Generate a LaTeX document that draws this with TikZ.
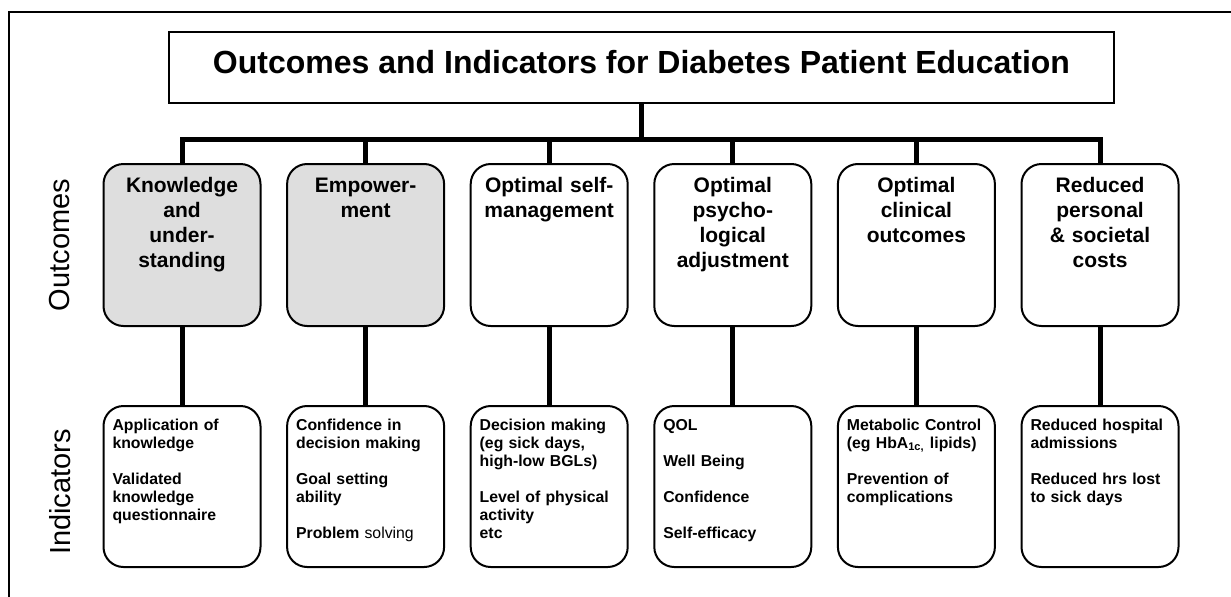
\documentclass[tikz,border=0pt]{standalone}
\usepackage{fontspec}
\setmainfont{Liberation Sans}
\definecolor{shade}{RGB}{222,222,222}

\begin{document}
\begin{tikzpicture}[x=0.5pt, y=-0.5pt,
    link/.style = {line width=2.5pt},
    outcome/.style = {draw, line width=1pt, rounded corners=10pt, anchor=north,
        minimum width=78.5pt, inner xsep=2.25pt, inner ysep=0pt, text width=74pt,
        align=center, text height=14.35pt, text depth=66.65pt,
        font=\fontsize{10.5}{12.5}\selectfont\bfseries},
    indicator/.style = {draw, line width=1pt, rounded corners=10pt, anchor=north,
        minimum width=78.5pt, inner xsep=4.5pt, inner ysep=0pt, text width=69.5pt,
        align=left, text height=12.2pt, text depth=68.3pt,
        font=\fontsize{7.9}{9}\selectfont\bfseries},
    side/.style = {rotate=90, font=\fontsize{14.5}{17}\selectfont}]
    \useasboundingbox (0,0) rectangle (1231,596);

    % frame
    \draw[line width=1pt] (9,600) -- (9,12) -- (1235,12);

    \node[draw, line width=1pt, anchor=north, minimum width=472.5pt, inner sep=0pt,
        text height=20.5pt, text depth=15pt, font=\fontsize{16}{18}\selectfont\bfseries]
        (title) at (641.5,31) {Outcomes and Indicators for Diabetes Patient Education};

    \node[side] (outlabel) at (60,245) {Outcomes};
    \node[side] (indlabel) at (60,492) {Indicators};

    % outcomes
    \node[outcome, fill=shade] (know) at (182,163) {Knowledge\\and\\under-\\standing};
    \node[outcome, fill=shade] (emp) at (365.6,163) {Empower-\\ment};
    \node[outcome] (self) at (549.2,163) {Optimal self-\\management};
    \node[outcome] (psy) at (732.8,163) {Optimal\\psycho-\\logical\\adjustment};
    \node[outcome] (clin) at (916.4,163) {Optimal\\clinical\\outcomes};
    \node[outcome] (cost) at (1100,163) {Reduced\\personal\\\& societal\\costs};

    % indicators
    \node[indicator] (iknow) at (182,405) {Application of\\knowledge\\[9pt]Validated\\knowledge\\questionnaire};
    \node[indicator] (iemp) at (365.6,405) {Confidence in\\decision making\\[9pt]Goal setting\\ability\\[9pt]Problem {\mdseries solving}};
    \node[indicator] (iself) at (549.2,405) {Decision making\\(eg sick days,\\high-low BGLs)\\[9pt]Level of physical\\activity\\etc};
    \node[indicator] (ipsy) at (732.8,405) {QOL\\[9pt]Well Being\\[9pt]Confidence\\[9pt]Self-efficacy};
    \node[indicator] (iclin) at (916.4,405) {Metabolic Control\\(eg HbA\textsubscript{1c,} lipids)\\[9pt]Prevention of\\complications};
    \node[indicator] (icost) at (1100,405) {Reduced hospital\\admissions\\[9pt]Reduced hrs lost\\to sick days};

    % tree links
    \coordinate (bar) at (641.5,139.5);
    \draw[link] (title.south) -- (title.south |- bar);
    \draw[link] (know.north) -- (know.north |- bar) -- (cost.north |- bar) -- (cost.north);
    \foreach \o in {emp,self,psy,clin}
        \draw[link] (\o.north) -- (\o.north |- bar);
    \foreach \o/\i in {know/iknow,emp/iemp,self/iself,psy/ipsy,clin/iclin,cost/icost}
        \draw[link] (\o.south) -- (\i.north);
\end{tikzpicture}
\end{document}
